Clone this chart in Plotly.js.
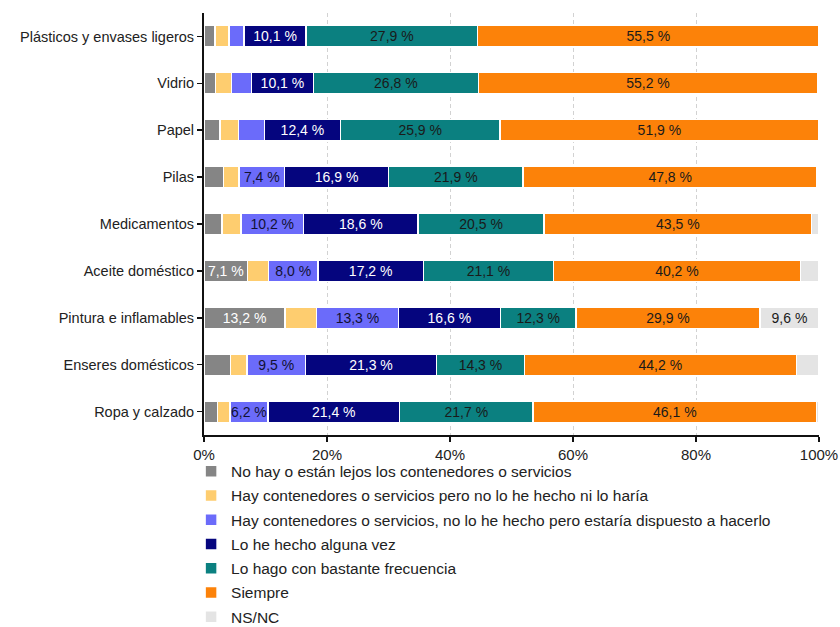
<!DOCTYPE html>
<html><head><meta charset="utf-8">
<script src="https://cdn.plot.ly/plotly-3.0.1.min.js"></script>
<style>body{margin:0;background:#fff}#c{width:840px;height:627px}</style>
</head><body><div id="c"></div>
<script>
const categories = ["Plásticos y envases ligeros","Vidrio","Papel","Pilas","Medicamentos","Aceite doméstico","Pintura e inflamables","Enseres domésticos","Ropa y calzado"];
const seriesNames = ["No hay o están lejos los contenedores o servicios","Hay contenedores o servicios pero no lo he hecho ni lo haría","Hay contenedores o servicios, no lo he hecho pero estaría dispuesto a hacerlo","Lo he hecho alguna vez","Lo hago con bastante frecuencia","Siempre","NS/NC"];
const noHay      = [1.8, 1.9, 2.6, 3.2, 2.9, 7.1, 13.2, 4.3, 2.2];
const noHaria    = [2.3, 2.6, 3.0, 2.5, 3.1, 3.4, 5.1, 2.7, 2.0];
const dispuesto  = [2.4, 3.2, 4.2, 7.4, 10.2, 8.0, 13.3, 9.5, 6.2];
const algunaVez  = [10.1, 10.1, 12.4, 16.9, 18.6, 17.2, 16.6, 21.3, 21.4];
const frecuencia = [27.9, 26.8, 25.9, 21.9, 20.5, 21.1, 12.3, 14.3, 21.7];
const siempre    = [55.5, 55.2, 51.9, 47.8, 43.5, 40.2, 29.9, 44.2, 46.1];
const nsnc       = [0.0, 0.2, 0.0, 0.3, 1.2, 3.0, 9.6, 3.7, 0.4];
const xTickVals = [0, 20, 40, 60, 80, 100];
const xTickText = ["0%", "20%", "40%", "60%", "80%", "100%"];

const series = [noHay, noHaria, dispuesto, algunaVez, frecuencia, siempre, nsnc];
const colors = ["#858585", "#FECD6F", "#6B6BFA", "#05057E", "#0B8080", "#FC8209", "#E4E4E4"];
const textColors = ["#ffffff", "#222222", "#111133", "#ffffff", "#1a1a1a", "#1a1a1a", "#1a1a1a"];

const traces = series.map((vals, i) => ({
  type: "bar",
  orientation: "h",
  name: seriesNames[i],
  y: categories,
  x: vals,
  text: vals.map(v => v >= 6 ? v.toFixed(1).replace(".", ",") + " %" : ""),
  textposition: "inside",
  insidetextanchor: "middle",
  textangle: 0,
  constraintext: "none",
  textfont: {family: "Liberation Sans, Arial, sans-serif", size: 14, color: textColors[i]},
  hoverinfo: "none",
  marker: {color: colors[i], line: {color: "#ffffff", width: 1.5}},
  legendgroup: "g" + i
}));

const layout = {
  width: 840, height: 627,
  margin: {l: 204, r: 21, t: 13, b: 192},
  barmode: "stack",
  bargap: 0.54,
  paper_bgcolor: "#ffffff",
  plot_bgcolor: "#ffffff",
  font: {family: "Liberation Sans, Arial, sans-serif", size: 14, color: "#222222"},
  showlegend: true,
  legend: {
    orientation: "v", xref: "paper", x: -0.021, xanchor: "left",
    yref: "container", y: 0.275, yanchor: "top",
    maxheight: 400, bgcolor: "rgba(0,0,0,0)",
    traceorder: "grouped", tracegroupgap: 1.1,
    font: {family: "Liberation Sans, Arial, sans-serif", size: 15.5, color: "#222222"}
  },
  xaxis: {
    range: [0, 100], tickvals: xTickVals, ticktext: xTickText,
    showgrid: true, gridcolor: "#d2d2d2", griddash: "4px,3px", gridwidth: 1,
    zeroline: false, showline: true, linecolor: "#111111", linewidth: 2,
    ticks: "outside", ticklen: 5, tickwidth: 1.5, tickcolor: "#111111",
    tickfont: {size: 15, color: "#222222"}, fixedrange: true
  },
  yaxis: {
    autorange: "reversed", showline: true, linecolor: "#111111", linewidth: 2,
    ticks: "outside", ticklen: 5, tickwidth: 1.5, tickcolor: "#111111",
    showgrid: false, tickfont: {size: 14.5, color: "#222222"}, fixedrange: true
  }
};
Plotly.newPlot("c", traces, layout, {displayModeBar: false, staticPlot: true});
</script></body></html>
